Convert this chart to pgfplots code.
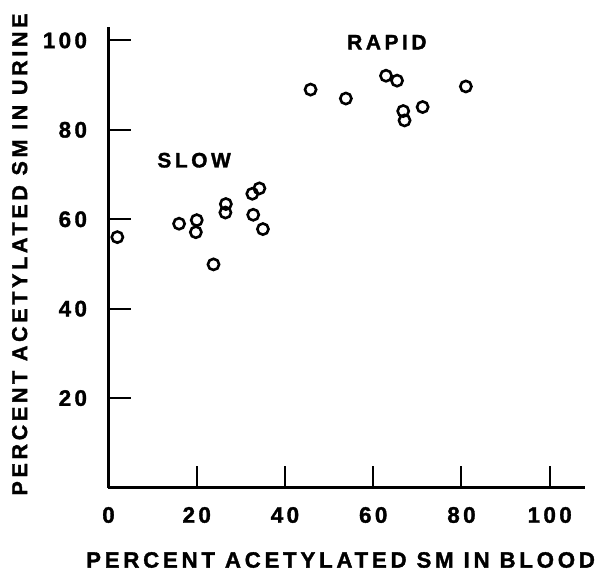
\documentclass[border=0pt]{standalone}
\usepackage{pgfplots}
\pgfplotsset{compat=1.18}
\usepackage{fontspec}
\setmainfont{Liberation Sans}
\newfontfamily\labfont[LetterSpace=17, BoldFeatures={FakeBold=1.5}]{Liberation Sans}
\newfontfamily\tickfont[LetterSpace=15, BoldFeatures={FakeBold=1.5}]{Liberation Sans}
\begin{document}
\begin{tikzpicture}
\begin{axis}[
  at={(0,0)}, anchor=south west,
  scale only axis, width=476.5bp, height=460.5bp,
  xmin=0, xmax=108, ymin=0, ymax=103,
  enlargelimits=false,
  axis x line=bottom, axis y line=left,
  axis line style={-, line width=2.6bp},
  xtick={0,20,40,60,80,100}, ytick={20,40,60,80,100},
  tick align=inside, major tick length=22bp,
  tick style={line width=2bp, black},
  /pgf/number format/assume math mode=true,
  ticklabel style={font=\tickfont\bfseries\fontsize{22.5}{22.5}\selectfont},
  xticklabel style={anchor=center, yshift=-27.5bp},
  yticklabel style={anchor=east, xshift=-18bp},
  clip=false,
]
\addplot[only marks, mark=o, mark size=5.6bp, mark options={line width=2.6bp, black}] coordinates {
 (2,56) (16,59) (20,59.8) (19.8,57.1) (23.8,49.9) (26.6,63.4) (26.5,61.5)
 (32.6,65.7) (34.2,66.9) (32.8,61.0) (35.0,57.8)
 (45.8,89.0) (53.8,87.0) (62.9,92.1) (65.4,91.0) (66.8,84.2) (67.1,82.1)
 (71.2,85.1) (81.0,89.7)
};
\node[font=\labfont\bfseries\fontsize{21}{21}\selectfont] at (axis cs:19.4,73.2) {SLOW};
\node[font=\labfont\bfseries\fontsize{21}{21}\selectfont] at (axis cs:63.1,99.6) {RAPID};
\node[font=\labfont\bfseries\fontsize{22.3}{22.3}\selectfont, yshift=-72.5bp] at (axis description cs:0.487,0) {PERCENT ACETYLATED SM IN BLOOD};
\node[font=\labfont\bfseries\fontsize{21.6}{21.6}\selectfont, xshift=-88.8bp, rotate=90] at (axis description cs:0,0.506) {PERCENT ACETYLATED SM IN URINE};
\end{axis}
\pgfresetboundingbox
\path[use as bounding box] (-108.5bp,-88.5bp) rectangle (486.5bp,487.5bp);
\end{tikzpicture}
\end{document}
